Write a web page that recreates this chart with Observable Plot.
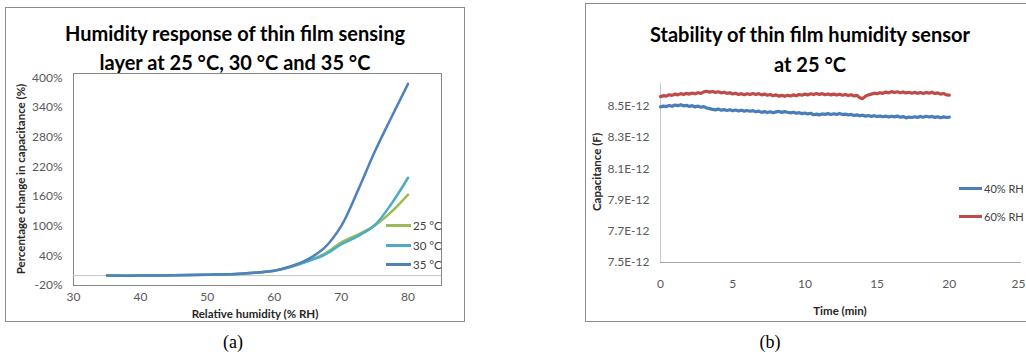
<!DOCTYPE html>
<html><head><meta charset="utf-8">
<script src="https://cdn.jsdelivr.net/npm/d3@7"></script>
<script src="https://cdn.jsdelivr.net/npm/@observablehq/plot@0.6"></script>
<style>
body{margin:0;background:#fff;}
#root{position:relative;width:1026px;height:354px;overflow:hidden;font-family:Lato,sans-serif;background:#fff;}
.panel{position:absolute;border:1px solid #8c8c8c;background:#fff;box-sizing:border-box;}
.title{position:absolute;left:0;right:0;text-align:center;font-weight:bold;font-size:20px;color:#000;white-space:nowrap;}
.cap{position:absolute;font-family:"Liberation Serif",serif;font-size:18px;transform:translate(-50%,-50%);color:#000;}
.axt{position:absolute;font-weight:bold;font-size:11.5px;color:#262626;white-space:nowrap;transform:translate(-50%,-50%);}
.axt.rot{transform:translate(-50%,-50%) rotate(-90deg);}
.leg{position:absolute;font-size:11.5px;color:#404040;white-space:nowrap;display:flex;align-items:center;height:12px;transform:translateY(-50%);}
.leg .sw{display:inline-block;width:25px;height:3px;margin-right:2px;}
.plot{position:absolute;}
</style></head>
<body><div id="root"></div>
<script>
// ---------- Panel (a) data ----------
const rh = [35, 40, 45, 50, 55, 60, 62.5, 65, 67.5, 70, 72.5, 75, 77.5, 80];
const change25 = [0, 0, 0.5, 2, 4, 10, 18, 30, 44, 67, 83, 101, 129, 164];
const change30 = [0, 0, 0.5, 2, 4, 10, 18, 29, 42, 63, 80, 102, 145, 198];
const change35 = [0, 0, 0.5, 2, 4, 10, 19, 33, 56, 100, 172, 250, 320, 388];
const seriesA = ["25 °C", "30 °C", "35 °C"];
const colorsA = ["#9BBB59", "#4BACC6", "#4F81BD"];
const yTicksA = [-20, 40, 100, 160, 220, 280, 340, 400];
const xTicksA = [30, 40, 50, 60, 70, 80];

// ---------- Panel (b) data (capacitance in pF, sampled every 0.2 min) ----------
const sampleStep = 0.2;
const cap40 = [8.497,8.502,8.499,8.506,8.501,8.509,8.505,8.511,8.504,8.507,
8.500,8.505,8.497,8.502,8.495,8.499,8.490,8.486,8.481,8.478,
8.483,8.476,8.480,8.474,8.479,8.472,8.477,8.471,8.476,8.470,
8.474,8.469,8.473,8.466,8.470,8.462,8.467,8.461,8.466,8.460,
8.465,8.468,8.462,8.467,8.463,8.459,8.463,8.456,8.460,8.454,
8.458,8.452,8.456,8.447,8.451,8.446,8.452,8.449,8.454,8.448,
8.453,8.449,8.455,8.448,8.451,8.445,8.449,8.442,8.446,8.440,
8.444,8.438,8.442,8.436,8.441,8.435,8.439,8.434,8.438,8.432,
8.437,8.433,8.438,8.431,8.435,8.427,8.432,8.429,8.434,8.430,
8.436,8.431,8.437,8.432,8.436,8.430,8.434,8.428,8.433,8.429,8.432];
const cap60 = [8.563,8.569,8.566,8.575,8.571,8.579,8.574,8.582,8.577,8.584,
8.579,8.586,8.581,8.588,8.584,8.593,8.597,8.592,8.596,8.590,
8.594,8.587,8.591,8.584,8.588,8.580,8.585,8.577,8.582,8.575,
8.581,8.576,8.583,8.577,8.582,8.574,8.579,8.572,8.577,8.569,
8.574,8.566,8.571,8.565,8.572,8.567,8.574,8.569,8.577,8.572,
8.579,8.574,8.581,8.576,8.583,8.577,8.582,8.575,8.580,8.574,
8.579,8.573,8.578,8.572,8.577,8.570,8.575,8.567,8.571,8.556,
8.550,8.566,8.574,8.579,8.585,8.581,8.588,8.584,8.592,8.587,
8.595,8.589,8.594,8.588,8.593,8.586,8.591,8.585,8.590,8.584,
8.589,8.583,8.590,8.585,8.591,8.583,8.587,8.579,8.583,8.574,8.572];
const seriesB = ["40% RH", "60% RH"];
const colorsB = ["#4A7EBB", "#BE4B48"];
const yTicksB = [7.5, 7.7, 7.9, 8.1, 8.3, 8.5];
const xTicksB = [0, 5, 10, 15, 20];
const xTickLastB = [25];

const root = document.getElementById("root");
function el(cls, css, html) {
  const d = document.createElement("div");
  d.className = cls; Object.assign(d.style, css);
  if (html != null) d.innerHTML = html;
  root.appendChild(d); return d;
}

// Panels
const pa = el("panel", {left:"5px", top:"7px", width:"460px", height:"315px"});
const pb = el("panel", {left:"585px", top:"3px", width:"450px", height:"319px"});
const ta = document.createElement("div"); ta.className = "title";
ta.style.top = "11px"; ta.style.lineHeight = "29px";
ta.innerHTML = "Humidity response of thin film sensing<br>layer at 25 °C, 30 °C and 35 °C";
pa.appendChild(ta);
const tb = document.createElement("div"); tb.className = "title";
tb.style.top = "15px"; tb.style.lineHeight = "30px";
tb.innerHTML = "Stability of thin film humidity sensor<br>at 25 °C";
pb.appendChild(tb);

const tickStyle = {fontFamily: "Lato, sans-serif", fontSize: "12px", color: "#595959", background: "transparent", overflow: "visible"};

// ---------- Plot (a) ----------
const dataA = [];
[change25, change30, change35].forEach((arr, si) => arr.forEach((v, i) => dataA.push({rh: rh[i], v, s: seriesA[si]})));
const plotA = Plot.plot({
  width: 457, height: 252,
  marginLeft: 67, marginRight: 22, marginTop: 5, marginBottom: 35,
  style: tickStyle,
  x: {domain: [30, 85]},
  y: {domain: [-20, 409]},
  color: {domain: seriesA, range: colorsA},
  marks: [
    Plot.frame({stroke: "#868686"}),
    Plot.ruleY([0], {stroke: "#c4c4c4", strokeWidth: 1}),
    Plot.axisY({ticks: yTicksA, tickFormat: d => d + "%", tickSize: 0, tickPadding: 11, label: null, fill: "#595959"}),
    Plot.axisX({ticks: xTicksA, tickSize: 0, tickPadding: 7, label: null, fill: "#595959"}),
    Plot.line(dataA, {x: "rh", y: "v", z: "s", stroke: "s", strokeWidth: 2.5, curve: "catmull-rom"})
  ]
});
plotA.classList.add("plot"); plotA.style.left = "6px"; plotA.style.top = "68px";
root.appendChild(plotA);

// ---------- Plot (b) ----------
const dataB = [];
[cap40, cap60].forEach((arr, si) => arr.forEach((v, i) => dataB.push({t: i * sampleStep, v, s: seriesB[si]})));
const plotB = Plot.plot({
  width: 440, height: 245,
  marginLeft: 74, marginRight: 5, marginTop: 8, marginBottom: 58,
  style: tickStyle,
  x: {domain: [0, 25]},
  y: {domain: [7.5, 8.647]},
  color: {domain: seriesB, range: colorsB},
  marks: [
    Plot.ruleX([0], {stroke: "#c8c8c8"}),
    Plot.ruleY([7.5], {stroke: "#a6a6a6"}),
    Plot.axisY({ticks: yTicksB, tickFormat: d => d.toFixed(1) + "E-12", tickSize: 0, tickPadding: 11, label: null, fill: "#595959"}),
    Plot.axisX({ticks: xTicksB, tickSize: 0, tickPadding: 17, label: null, fill: "#595959"}),
    Plot.axisX({ticks: xTickLastB, tickSize: 0, tickPadding: 17, label: null, fill: "#595959", textAnchor: "end", dx: 4}),
    Plot.line(dataB, {x: "t", y: "v", z: "s", stroke: "s", strokeWidth: 3.2})
  ]
});
plotB.classList.add("plot"); plotB.style.left = "586px"; plotB.style.top = "75px";
root.appendChild(plotB);

// Axis titles
el("axt rot", {left:"20px", top:"179px"}, "Percentage change in capacitance (%)");
el("axt", {left:"255px", top:"313px"}, "Relative humidity (% RH)");
el("axt rot", {left:"596px", top:"172px"}, "Capacitance (F)");
el("axt", {left:"840px", top:"310px"}, "Time (min)");

// Legends
const legAy = [225, 245, 264];
seriesA.forEach((s, i) => el("leg", {left:"386px", top: legAy[i] + "px"}, `<span class="sw" style="background:${colorsA[i]}"></span>${s}`));
const legBy = [188, 216];
seriesB.forEach((s, i) => el("leg", {left:"959px", top: legBy[i] + "px", fontSize:"11px"}, `<span class="sw" style="background:${colorsB[i]};width:23px"></span>${s}`));

// Captions
el("cap", {left:"233px", top:"342px"}, "(a)");
el("cap", {left:"770px", top:"342px"}, "(b)");
</script>
</body></html>
